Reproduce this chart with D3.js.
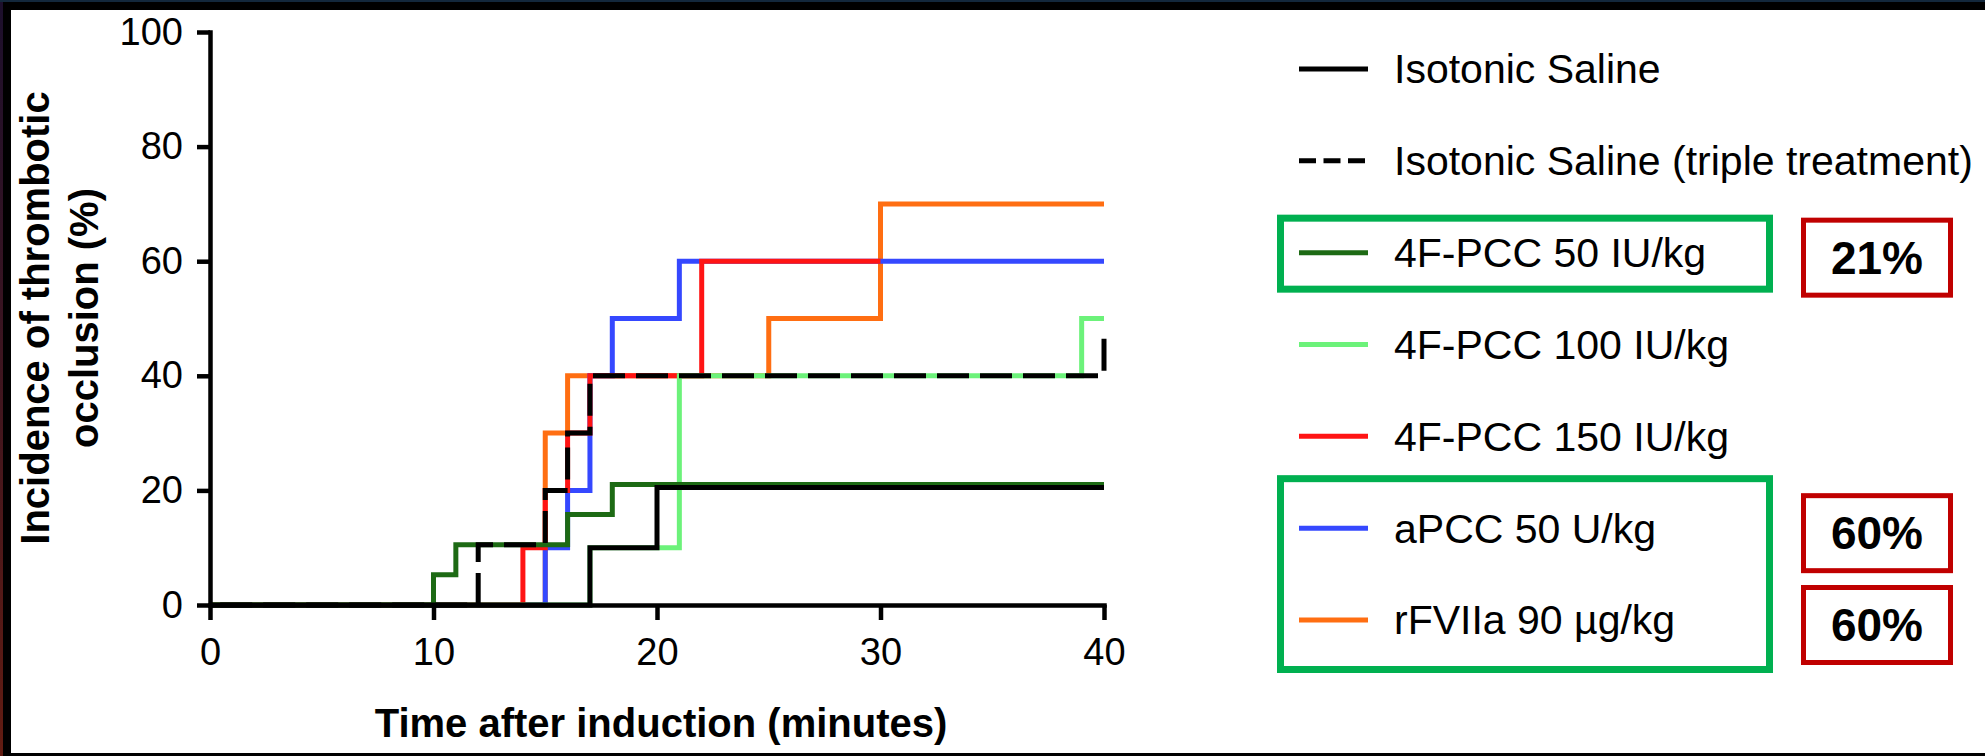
<!DOCTYPE html>
<html>
<head>
<meta charset="utf-8">
<script src="https://cdn.jsdelivr.net/npm/d3@7/dist/d3.min.js"></script>
<style>
  body { margin: 0; background: #000; }
  svg { display: block; font-family: "Liberation Sans", Arial, Helvetica, sans-serif; }
</style>
</head>
<body>
<div id="chart"></div>
<script>
// step data: [minute, % with occlusion]
const saline = [[0, 0], [17, 10], [20, 20.5], [40, 20.5]];
const salineTriple = [[0, 0], [12, 10.5], [15, 20], [16, 30], [17, 40], [40, 47.4]];
const pcc50 = [[0, 0], [10, 5.26], [11, 10.53], [16, 15.79], [18, 21.05], [40, 21.05]];
const pcc100 = [[0, 0], [17, 10], [21, 40], [39, 50], [40, 50]];
const pcc150 = [[0, 0], [14, 10], [15, 20], [16, 30], [17, 40], [22, 60], [30, 60]];
const apcc50 = [[0, 0], [15, 10], [16, 20], [17, 40], [18, 50], [21, 60], [40, 60]];
const rfviia90 = [[0, 0], [15, 30], [16, 40], [25, 50], [30, 70], [40, 70]];

const legendLabels = [
  "Isotonic Saline",
  "Isotonic Saline (triple treatment)",
  "4F-PCC 50 IU/kg",
  "4F-PCC 100 IU/kg",
  "4F-PCC 150 IU/kg",
  "aPCC 50 U/kg",
  "rFVIIa 90 µg/kg",
];
const highlightRows = [[2, 2], [5, 6]];
const pctRows = [2, 5, 6];
const pctLabels = ["21%", "60%", "60%"];

const xTicks = [0, 10, 20, 30, 40];
const yTicks = [0, 20, 40, 60, 80, 100];

// styling per series (drawing order = bottom to top)
const series = [
  { data: rfviia90, color: "#ff6e12" },
  { data: apcc50, color: "#3548ff" },
  { data: pcc150, color: "#ff1414" },
  { data: pcc100, color: "#6cf27a" },
  { data: pcc50, color: "#1d6a14" },
  { data: saline, color: "#000" },
  { data: salineTriple, color: "#000", dash: [32, 11] },
];
const legendStyle = [
  { color: "#000" },
  { color: "#000", dash: "17,7.5" },
  { color: "#1d6a14" },
  { color: "#6cf27a" },
  { color: "#ff1414" },
  { color: "#3548ff" },
  { color: "#ff6e12" },
];

const [W, H] = [1985, 756];
const svg = d3
  .select("#chart")
  .append("svg")
  .attr("width", W)
  .attr("height", H);

// frame: dark border with a white panel
const defs = svg.append("defs");
const grad = defs
  .append("linearGradient")
  .attr("id", "edge")
  .attr("x1", 0).attr("x2", 0).attr("y1", 0).attr("y2", 1);
grad.append("stop").attr("offset", "0%").attr("stop-color", "#1c0f2c");
grad.append("stop").attr("offset", "100%").attr("stop-color", "#621c12");
svg.append("rect").attr("width", W).attr("height", H).attr("fill", "#000");
svg.append("rect").attr("width", 3).attr("height", H).attr("fill", "url(#edge)");
svg.append("rect").attr("width", W).attr("height", 2).attr("fill", "#13283c");
svg.append("rect")
  .attr("x", 11).attr("y", 10)
  .attr("width", W - 11).attr("height", 743)
  .attr("fill", "#fff");

// scales
const x = d3.scaleLinear().domain([0, 40]).range([210, 1104]);
const y = d3.scaleLinear().domain([0, 100]).range([605, 32]);

// lines
const line = d3
  .line()
  .x((d) => x(d[0]))
  .y((d) => y(d[1]))
  .curve(d3.curveStepAfter);

const lines = svg.append("g").attr("fill", "none");
series.forEach((s) => {
  const p = lines
    .append("path")
    .attr("d", line(s.data))
    .attr("stroke", s.color)
    .attr("stroke-width", 5)
    .attr("stroke-linejoin", "miter");
  if (s.dash) {
    // start the dash pattern where the curve leaves zero
    const period = s.dash[0] + s.dash[1];
    const s0 = x(s.data[1][0]) - x(0);
    p.attr("stroke-dasharray", s.dash.join(","))
      .attr("stroke-dashoffset", period - (s0 % period));
  }
});

// axes
const xAxis = svg
  .append("g")
  .attr("transform", `translate(0, ${y(0)})`)
  .call(
    d3.axisBottom(x).tickValues(xTicks).tickSize(15).tickPadding(18).tickSizeOuter(0)
  );
const yAxis = svg
  .append("g")
  .attr("transform", `translate(${x(0)}, 0)`)
  .call(
    d3.axisLeft(y).tickValues(yTicks).tickSize(13).tickPadding(14).tickSizeOuter(0)
  );
[xAxis, yAxis].forEach((a) => {
  a.select(".domain").attr("stroke", "#000").attr("stroke-width", 4.5).attr("stroke-linecap", "square");
  a.selectAll(".tick line").attr("stroke", "#000").attr("stroke-width", 4.5);
  a.selectAll(".tick text")
    .attr("fill", "#000")
    .style("font-size", "38px")
    .style("font-family", '"Liberation Sans", Arial, sans-serif');
});

// axis titles
svg.append("text")
  .attr("x", 661).attr("y", 737)
  .attr("text-anchor", "middle")
  .style("font-size", "40px").style("font-weight", "bold")
  .text("Time after induction (minutes)");

const yTitle = svg.append("g").attr("transform", "translate(0, 318) rotate(-90)");
yTitle.append("text")
  .attr("x", 0).attr("y", 49)
  .attr("text-anchor", "middle")
  .style("font-size", "40px").style("font-weight", "bold")
  .text("Incidence of thrombotic");
yTitle.append("text")
  .attr("x", 0).attr("y", 98)
  .attr("text-anchor", "middle")
  .style("font-size", "40px").style("font-weight", "bold")
  .text("occlusion (%)");

// legend
const row = d3.scaleLinear().domain([0, 6]).range([69, 620]);
const legend = svg.append("g").attr("id", "legend");
legendLabels.forEach((label, i) => {
  const g = legend.append("g").attr("transform", `translate(0, ${row(i)})`);
  g.append("line")
    .attr("x1", 1299).attr("x2", 1368)
    .attr("stroke", legendStyle[i].color)
    .attr("stroke-width", 5)
    .attr("stroke-dasharray", legendStyle[i].dash || null);
  g.append("text")
    .attr("x", 1394).attr("dy", "0.35em")
    .style("font-size", "41px")
    .text(label);
});

// green highlight boxes around legend entries
highlightRows.forEach(([a, b]) => {
  const pad = a === b ? [38, 40] : [53, 53];
  const top = row(a) - pad[0];
  const bottom = row(b) + pad[1];
  legend.append("rect")
    .attr("x", 1280.5).attr("y", top + 3.5)
    .attr("width", 489).attr("height", bottom - top - 7)
    .attr("fill", "none")
    .attr("stroke", "#00b050")
    .attr("stroke-width", 7);
});

// red percentage boxes
pctLabels.forEach((label, i) => {
  const cy = row(pctRows[i]) + 5;
  legend.append("rect")
    .attr("x", 1803.5).attr("y", cy - 37.5)
    .attr("width", 147).attr("height", 75)
    .attr("fill", "#fff")
    .attr("stroke", "#c00000")
    .attr("stroke-width", 5);
  legend.append("text")
    .attr("x", 1877).attr("y", cy).attr("dy", "0.35em")
    .attr("text-anchor", "middle")
    .style("font-size", "46px").style("font-weight", "bold")
    .text(label);
});
</script>
</body>
</html>
